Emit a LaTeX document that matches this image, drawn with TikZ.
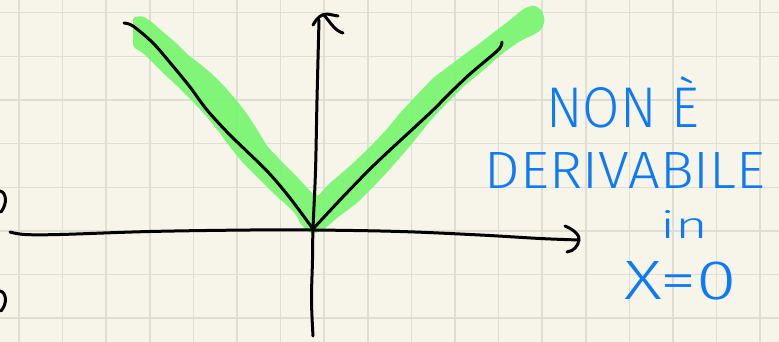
\documentclass[tikz,border=0pt]{standalone}
\usepackage{fontspec}
\setmainfont{Fira Sans}[UprightFont=* Light]
\definecolor{paper}{RGB}{247,245,234}
\definecolor{gridc}{RGB}{224,222,210}
\definecolor{marker}{RGB}{118,245,110}
\definecolor{pen}{RGB}{12,122,250}
\tikzset{
  gridline/.style={draw=gridc, line width=1.6pt},
  ink/.style={draw=black, line width=3pt, line cap=round, line join=round},
  txt/.style={text=pen, inner sep=0pt, anchor=center},
}
\begin{document}
\begin{tikzpicture}[x=1pt,y=-1pt]
\useasboundingbox (0,0) rectangle (779,342);
\fill[paper] (0,0) rectangle (779,342);
% grid
\foreach \i in {0,...,17} \draw[gridline] ({19+43.6*\i},0) -- ({19+43.6*\i},342);
\foreach \j in {0,...,7} \draw[gridline] (0,{12.7+43.65*\j}) -- (779,{12.7+43.65*\j});
% green highlighter
\fill[marker, opacity=0.92, rounded corners=3pt]
  (133,17) -- (143,16) -- (153,23) -- (163,32) -- (175,42) -- (188,55) -- (200,64)
  -- (212,74) -- (224,86) -- (237,101) -- (247,114) -- (255,126) -- (267,146)
  -- (283,163) -- (300,180) -- (312,193) -- (317,197)
  -- (330,183) -- (350,166) -- (370,147) -- (387,129) -- (400,113) -- (413,99)
  -- (433,78) -- (457,60) -- (480,43) -- (510,20) -- (523,9) -- (533,5) -- (541,9)
  -- (545,19) -- (542,29) -- (535,34) -- (520,41) -- (503,53) -- (480,73) -- (463,87)
  -- (447,103) -- (430,121) -- (410,146) -- (390,169) -- (377,183) -- (357,203)
  -- (337,218) -- (323,230) -- (313,234) -- (307,231) -- (300,223) -- (297,216)
  -- (290,208) -- (273,193) -- (257,177) -- (243,163) -- (230,147) -- (219,132)
  -- (207,117) -- (197,106) -- (187,96) -- (173,82) -- (163,73) -- (153,63)
  -- (143,53) -- (133,47) -- cycle;
% coordinates
\coordinate (O) at (313,229);
\coordinate (xend) at (579,240);
\coordinate (yend) at (319,20);
% x axis
\draw[ink] plot[smooth, tension=0.6] coordinates {(10,232) (25,234.5) (60,234.5) (150,231.5) (250,230) (313,230) (400,231.5) (480,235) (540,238.5) (xend)};
\draw[ink] (565,226) .. controls (575,230) and (580,236) .. (xend) .. controls (578,246) and (574,251) .. (567,252);
% y axis
\draw[ink] plot[smooth, tension=0.6] coordinates {(313,336) (311.5,300) (312.5,260) (O) (315.5,171) (317,100) (yend)};
\draw[ink] (313,25) .. controls (317,18) and (321,14) .. (327,14) -- (338,16);
\draw[ink] (324,15) .. controls (330,22) and (335,31) .. (343,33);
% function |x|
\draw[ink] plot[smooth, tension=0.5] coordinates {(124,23) (133,26) (153,43) (172,65) (190,87) (207,110) (230,135) (267,171) (290,198) (O)};
\draw[ink] plot[smooth, tension=0.5] coordinates {(O) (340,200) (368,171) (390,150) (430,113) (450,93) (470,74) (496,52) (501,46) (502,42)};
% edge marks
\draw[ink] (0,191) .. controls (6,192) and (8,203) .. (1,212);
\draw[ink] (0,291) .. controls (6,292) and (8,303) .. (1,311);
% text
\node[txt] (t1) at (623,102) {\resizebox{153pt}{51pt}{NON È}};
\node[txt] (t2) at (625,170) {\resizebox{280pt}{36pt}{DERIVABILE}};
\node[txt] (t3) at (684,224) {\resizebox{48pt}{28pt}{in}};
\node[txt] (t4) at (681,281) {\resizebox{112pt}{38pt}{X=0}};
\end{tikzpicture}
\end{document}
